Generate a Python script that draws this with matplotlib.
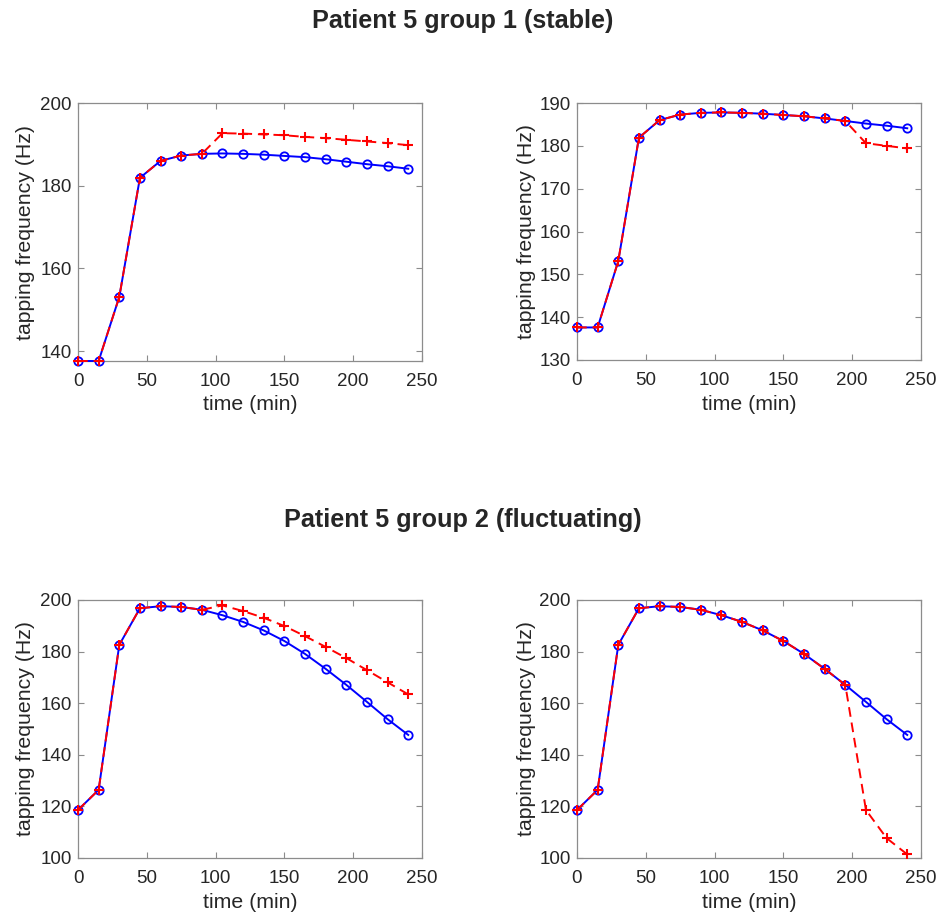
import matplotlib
matplotlib.use("Agg")
import matplotlib.pyplot as plt

plt.rcParams['font.family'] = ['Liberation Sans', 'DejaVu Sans']

time_min = [0, 15, 30, 45, 60, 75, 90, 105, 120, 135, 150, 165, 180, 195, 210, 225, 240]

# group 1 (stable)
g1_model = [137.6, 137.6, 153.1, 181.9, 186.0, 187.3, 187.7, 187.8, 187.7,
            187.5, 187.2, 186.9, 186.4, 185.8, 185.2, 184.7, 184.1]
g1_alt_a = [137.6, 137.6, 153.1, 181.9, 186.0, 187.3, 187.7, 192.7, 192.6,
            192.4, 192.2, 191.8, 191.5, 191.1, 190.7, 190.3, 189.8]
g1_alt_b = [137.6, 137.6, 153.1, 181.9, 186.0, 187.3, 187.7, 187.8, 187.7,
            187.5, 187.2, 186.9, 186.4, 185.8, 180.6, 180.0, 179.4]

# group 2 (fluctuating)
g2_model = [118.6, 126.4, 182.6, 196.8, 197.6, 197.3, 196.2, 194.1, 191.5,
            188.2, 184.1, 179.1, 173.3, 167.1, 160.5, 153.8, 147.7]
g2_alt_a = [118.6, 126.4, 182.6, 196.8, 197.6, 197.3, 196.2, 197.9, 195.7,
            193.1, 189.9, 186.0, 181.8, 177.5, 172.8, 168.1, 163.4]
g2_alt_b = [118.6, 126.4, 182.6, 196.8, 197.6, 197.3, 196.2, 194.1, 191.5,
            188.2, 184.1, 179.1, 173.3, 167.1, 118.6, 107.7, 101.4]

x_ticks = [0, 50, 100, 150, 200, 250]

W, H = 948, 915

panels = [
    # pixel box (left, bottom, width, height), ylabel right edge x, series, ylim, yticks
    ((78, 361, 344, 258), 35, g1_model, g1_alt_a, (137.6, 200), [140, 160, 180, 200]),
    ((577, 360, 344, 257), 536, g1_model, g1_alt_b, (130, 190), [130, 140, 150, 160, 170, 180, 190]),
    ((78, 858, 344, 258), 35, g2_model, g2_alt_a, (100, 200), [100, 120, 140, 160, 180, 200]),
    ((577, 858, 344, 258), 536, g2_model, g2_alt_b, (100, 200), [100, 120, 140, 160, 180, 200]),
]

fig = plt.figure(figsize=(W / 100, H / 100), dpi=100)
text_col = '#262626'
spine_col = '#8c8c8c'

for (l, b, w, h), ylab_x, model, alt, ylim, yticks in panels:
    ax = fig.add_axes([l / W, 1 - b / H, w / W, h / H])
    ax.plot(time_min, model, color='#0000ff', linestyle='-', marker='o',
            markersize=6, markerfacecolor='none', markeredgewidth=1.3,
            linewidth=1.4, clip_on=False, zorder=3)
    ax.plot(time_min, alt, color='#ff0000', linestyle=(0, (5, 3)), marker='+',
            markersize=6.5, markeredgewidth=1.5, linewidth=1.4,
            clip_on=False, zorder=4)
    ax.set_xlim(0, 250)
    ax.set_ylim(*ylim)
    ax.set_xticks(x_ticks)
    ax.set_yticks(yticks)
    ax.tick_params(direction='in', top=True, right=True, length=4, width=0.8,
                   colors=spine_col, labelcolor=text_col, labelsize=13.5)
    ax.tick_params(axis='x', pad=8.5)
    ax.tick_params(axis='y', pad=4.5)
    for s in ax.spines.values():
        s.set_color(spine_col)
        s.set_linewidth(0.9)
    # x label centred 44 px under the axes, y label ending just left of the tick labels
    ax.set_xlabel('time (min)', fontsize=15.3, color=text_col, va='center')
    ax.xaxis.set_label_coords(0.5, -44 / h)
    ax.set_ylabel('tapping frequency (Hz)', fontsize=15.3, color=text_col)
    ax.yaxis.set_label_coords((ylab_x - l) / w, 0.5)

fig.text(463 / W, 1 - 21 / H, 'Patient 5 group 1 (stable)', ha='center', va='center',
         fontsize=18.2, fontweight='bold', color=text_col)
fig.text(463 / W, 1 - 520 / H, 'Patient 5 group 2 (fluctuating)', ha='center', va='center',
         fontsize=18.2, fontweight='bold', color=text_col)

fig.savefig('out.png', dpi=100, facecolor='white')
